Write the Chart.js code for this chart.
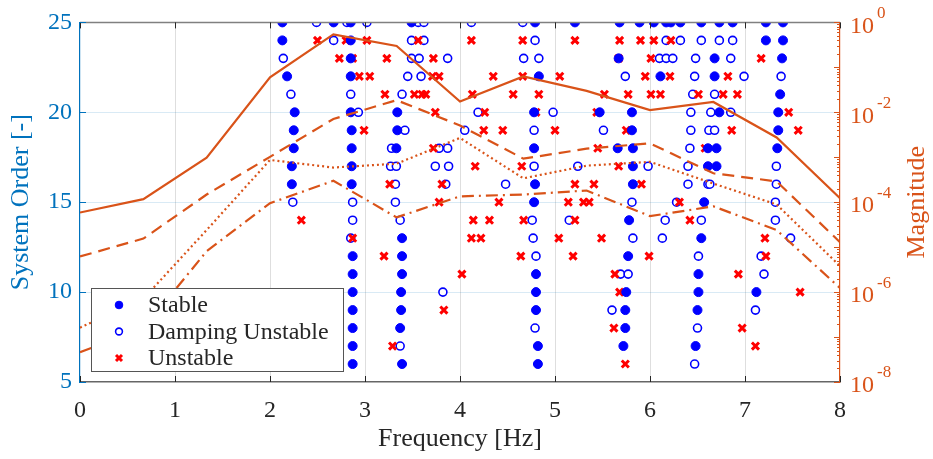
<!DOCTYPE html>
<html lang="en">
<head>
<meta charset="UTF-8">
<title>Stabilization Diagram</title>
<script src="https://cdn.jsdelivr.net/npm/chart.js"></script>
<style>
  body { margin: 0; background: #fff; }
  canvas { display: block; }
</style>
</head>
<body>
<canvas id="stabChart" width="933" height="459"></canvas>
<script>
    // pole frequencies [Hz] for each model order
    const stableByOrder = {
        25: [2.13, 2.67, 2.85, 3.49, 4.79, 5.21, 5.68, 5.89, 6.04, 6.17, 6.22, 6.32, 6.54, 6.73, 6.87, 7.22, 7.40],
        24: [2.13, 2.85, 7.22, 7.40],
        23: [2.85, 5.67, 6.68, 7.39],
        22: [2.18, 2.85, 4.83, 6.11, 6.68],
        21: [7.37],
        20: [2.26, 2.85, 3.34, 4.78, 5.47, 5.81, 6.73, 7.35],
        19: [2.25, 2.86, 3.34, 5.81, 7.35],
        18: [2.25, 2.86, 3.33, 4.78, 5.66, 5.82, 6.61, 6.70, 7.34],
        17: [2.23, 2.86, 5.82, 6.61, 6.70],
        16: [2.23, 2.86, 4.79, 5.82],
        15: [4.78, 6.57],
        14: [5.78],
        13: [3.39, 6.54],
        12: [2.87, 3.39, 5.77],
        11: [2.87, 3.39, 4.80, 6.51],
        10: [2.87, 3.38, 4.80, 5.75, 6.51, 7.12],
        9: [2.87, 3.38, 4.80, 5.74, 6.50],
        8: [2.87, 3.37, 5.74],
        7: [2.87, 4.82, 5.72, 6.48],
        6: [2.87, 3.39, 4.82]
    };

    const dampingByOrder = {
        25: [2.49, 2.81, 3.02, 3.56, 3.62, 4.12, 4.66],
        24: [2.67, 3.49, 3.62, 4.79, 6.17, 6.32, 6.54, 6.73, 6.87],
        23: [2.14, 3.49, 3.57, 3.87, 4.67, 4.83, 6.10, 6.17, 6.24, 6.48, 6.85],
        22: [3.45, 3.59, 5.74, 6.47, 6.99, 7.38],
        21: [2.22, 2.85, 3.39, 6.45, 6.68],
        20: [2.93, 4.19, 4.98, 6.43, 6.64, 6.85],
        19: [3.42, 4.05, 4.78, 5.51, 6.43, 6.62, 6.68],
        18: [3.28, 3.78, 3.87, 6.42],
        17: [3.27, 3.33, 3.74, 3.88, 4.78, 5.24, 5.98, 6.40, 7.33],
        16: [3.32, 3.85, 4.48, 6.40, 6.61, 6.63, 7.33],
        15: [2.24, 2.87, 3.32, 5.81, 6.28, 7.32],
        14: [2.87, 3.37, 4.76, 5.15, 6.16, 6.54, 7.32],
        13: [2.85, 4.77, 5.82, 6.13, 7.48],
        12: [4.80, 6.51, 7.17],
        11: [5.69, 5.77, 7.20],
        10: [3.82],
        9: [5.60, 7.11],
        8: [4.79, 6.50],
        7: [3.37],
        6: [6.47]
    };

    const unstableByOrder = {
        24: [2.50, 2.80, 3.02, 3.56, 4.12, 4.66, 5.21, 5.68, 5.90, 6.04, 6.22],
        23: [2.73, 2.87, 3.23, 3.72, 5.67, 6.01, 7.17],
        22: [2.94, 3.05, 3.71, 3.78, 4.35, 4.66, 5.05, 5.95, 6.21, 6.82],
        21: [3.21, 3.52, 3.60, 3.64, 4.13, 4.56, 4.83, 5.52, 5.77, 6.01, 6.11, 6.51, 6.77, 6.92],
        20: [3.74, 4.26, 4.80, 5.44, 7.46],
        19: [2.99, 4.25, 4.45, 5.00, 5.75, 6.86, 7.56],
        18: [3.72, 5.45, 6.58],
        17: [4.16, 4.65, 5.67],
        16: [3.26, 3.81, 5.21, 5.41, 5.91],
        15: [3.78, 4.41, 5.14, 5.30, 5.36, 6.31],
        14: [2.33, 4.14, 4.31, 4.67, 5.21, 6.42],
        13: [2.87, 4.12, 4.22, 5.04, 5.49, 7.21],
        12: [3.20, 4.64, 5.19, 5.99, 7.22],
        11: [4.02, 5.63, 6.93],
        10: [5.68, 7.58],
        9: [3.83],
        8: [5.62, 6.97],
        7: [3.29, 7.11],
        6: [5.74]
    };

    // magnitude curves on the right axis
    const curveFreq = [0, 0.667, 1.333, 2, 2.667, 3.333, 4, 4.667, 5.333, 6, 6.667, 7.333, 8];
    const magSolid = [5.9e-5, 1.17e-4, 9.8e-4, 0.060, 0.54, 0.30, 0.0174, 0.063, 0.030, 0.0112, 0.017, 2.75e-3, 1.23e-4];
    const magDashed = [6.2e-6, 1.55e-5, 1.48e-4, 1.02e-3, 7.1e-3, 0.0186, 5.1e-3, 9.3e-4, 1.55e-3, 2.04e-3, 4.4e-4, 2.9e-4, 1.29e-5];
    const magDotted = [1.62e-7, 7.1e-7, 2.4e-5, 8.7e-4, 5.9e-4, 7.2e-4, 2.69e-3, 3.4e-4, 6.5e-4, 7.9e-4, 2.6e-4, 8.9e-5, 3.8e-6];
    const magDashDot = [4.6e-8, 1.55e-7, 8.1e-6, 9.5e-5, 3.0e-4, 4.6e-5, 1.35e-4, 1.48e-4, 1.82e-4, 4.9e-5, 8.1e-5, 2.4e-5, 1.23e-6];

    const freqTicks = [0, 1, 2, 3, 4, 5, 6, 7, 8];
    const orderTicks = [5, 10, 15, 20, 25];
    const magExponents = [0, -2, -4, -6, -8];
    const legendOrder = ['Stable', 'Damping Unstable', 'Unstable'];

    const BLUE_AX = '#0072BD';
    const ORANGE = '#D95319';
    const SERIF = "'Liberation Serif', 'DejaVu Serif', serif";

    function toPoints(byOrder) {
        const pts = [];
        Object.keys(byOrder).forEach(order => {
            byOrder[order].forEach(f => pts.push({ x: f, y: Number(order) }));
        });
        return pts;
    }

    function curve(values) {
        return values.map((v, i) => ({ x: curveFreq[i], y: v }));
    }

    function curveDataset(values, dash) {
        return {
            label: '',
            data: curve(values),
            yAxisID: 'y2',
            showLine: true,
            borderColor: ORANGE,
            borderWidth: 2.2,
            borderDash: dash,
            pointRadius: 0,
            fill: false
        };
    }

    // draws inward ticks, top border, right labels/title and the legend
    const decorations = {
        id: 'decorations',
        afterDraw(chart) {
            const ctx = chart.ctx;
            const area = chart.chartArea;
            const xs = chart.scales.x, ys = chart.scales.y, y2 = chart.scales.y2;
            ctx.save();

            // top border
            ctx.strokeStyle = '#808080';
            ctx.lineWidth = 1.5;
            ctx.beginPath();
            ctx.moveTo(area.left, area.top);
            ctx.lineTo(area.right, area.top);
            ctx.stroke();

            // x ticks, bottom and top, pointing inward
            ctx.strokeStyle = '#262626';
            ctx.lineWidth = 1;
            freqTicks.forEach(f => {
                const px = Math.round(xs.getPixelForValue(f)) + 0.5;
                ctx.beginPath();
                ctx.moveTo(px, area.bottom); ctx.lineTo(px, area.bottom - 6);
                ctx.moveTo(px, area.top); ctx.lineTo(px, area.top + 6);
                ctx.stroke();
            });

            // left ticks
            ctx.strokeStyle = BLUE_AX;
            orderTicks.forEach(o => {
                const py = Math.round(ys.getPixelForValue(o)) + 0.5;
                ctx.beginPath();
                ctx.moveTo(area.left, py); ctx.lineTo(area.left + 6, py);
                ctx.stroke();
            });

            // right log ticks
            ctx.strokeStyle = ORANGE;
            for (let d = -8; d <= 0; d++) {
                for (let m = 1; m <= 9; m++) {
                    const v = m * Math.pow(10, d);
                    if (v > 1) break;
                    const py = Math.round(y2.getPixelForValue(v)) + 0.5;
                    const len = m === 1 ? 6 : 3;
                    ctx.beginPath();
                    ctx.moveTo(area.right, py); ctx.lineTo(area.right - len, py);
                    ctx.stroke();
                }
            }

            // right tick labels 10^n
            ctx.fillStyle = ORANGE;
            ctx.textAlign = 'left';
            ctx.textBaseline = 'middle';
            magExponents.forEach(e => {
                const py = y2.getPixelForValue(Math.pow(10, e));
                const x0 = area.right + 10;
                ctx.font = '24px ' + SERIF;
                ctx.fillText('10', x0, py + 4);
                const w = ctx.measureText('10').width;
                ctx.font = '17px ' + SERIF;
                ctx.fillText(String(e), x0 + w + 3, py - 9);
            });

            // right title
            ctx.save();
            ctx.translate(917, (area.top + area.bottom) / 2);
            ctx.rotate(-Math.PI / 2);
            ctx.textAlign = 'center';
            ctx.font = '26px ' + SERIF;
            ctx.fillText('Magnitude', 0, 0);
            ctx.restore();

            // legend box
            const lx = 91, ly = 288, lw = 252, lh = 83;
            ctx.fillStyle = '#ffffff';
            ctx.fillRect(lx, ly, lw, lh);
            ctx.strokeStyle = '#555555';
            ctx.lineWidth = 1;
            ctx.strokeRect(lx + 0.5, ly + 0.5, lw, lh);

            legendOrder.forEach((name, i) => {
                const ds = chart.data.datasets.find(d => d.label === name);
                const cy = ly + 17 + i * 26.5;
                const mx = lx + 28;
                ctx.lineWidth = ds.borderWidth;
                ctx.strokeStyle = ds.borderColor;
                ctx.fillStyle = ds.backgroundColor;
                Chart.helpers.drawPoint(ctx, {
                    pointStyle: ds.pointStyle,
                    radius: ds.pointRadius * 0.85,
                    borderWidth: ds.borderWidth,
                    rotation: 0
                }, mx, cy);
                ctx.fillStyle = '#262626';
                ctx.font = '24px ' + SERIF;
                ctx.textAlign = 'left';
                ctx.textBaseline = 'middle';
                ctx.fillText(name, lx + 57, cy + 1);
            });

            ctx.restore();
        }
    };

    const stabCtx = document.getElementById('stabChart').getContext('2d');
    const stabChart = new Chart(stabCtx, {
        type: 'scatter',
        data: {
            datasets: [
                curveDataset(magSolid, []),
                curveDataset(magDashed, [12, 7]),
                curveDataset(magDotted, [2, 3]),
                curveDataset(magDashDot, [12, 5, 2, 5]),
                {
                    label: 'Stable',
                    data: toPoints(stableByOrder),
                    yAxisID: 'y',
                    pointStyle: 'circle',
                    pointRadius: 4.5,
                    backgroundColor: '#0000ff',
                    borderColor: '#0000ff',
                    borderWidth: 1
                },
                {
                    label: 'Unstable',
                    data: toPoints(unstableByOrder),
                    yAxisID: 'y',
                    pointStyle: 'crossRot',
                    pointRadius: 5,
                    backgroundColor: '#ff0000',
                    borderColor: '#ff0000',
                    borderWidth: 3
                },
                {
                    label: 'Damping Unstable',
                    data: toPoints(dampingByOrder),
                    yAxisID: 'y',
                    pointStyle: 'circle',
                    pointRadius: 4,
                    backgroundColor: '#ffffff',
                    borderColor: '#0000ff',
                    borderWidth: 1.6
                }
            ]
        },
        options: {
            responsive: false,
            animation: false,
            devicePixelRatio: 1,
            layout: { padding: { top: 20, left: 0, right: 0, bottom: 0 } },
            plugins: {
                legend: { display: false },
                tooltip: { enabled: false }
            },
            scales: {
                x: {
                    type: 'linear',
                    min: 0,
                    max: 8,
                    afterFit: s => { s.height = 77; },
                    ticks: {
                        stepSize: 1,
                        padding: 14,
                        color: '#262626',
                        font: { family: SERIF, size: 24 }
                    },
                    grid: {
                        drawTicks: false,
                        color: c => (c.tick && c.tick.value > 0 && c.tick.value < 8) ? '#dedede' : 'rgba(0,0,0,0)'
                    },
                    border: { color: '#666666', width: 1.5 },
                    title: {
                        display: true,
                        text: 'Frequency [Hz]',
                        color: '#262626',
                        font: { family: SERIF, size: 26 },
                        padding: { top: 0, bottom: 4 }
                    }
                },
                y: {
                    type: 'linear',
                    position: 'left',
                    min: 5,
                    max: 25,
                    afterFit: s => { s.width = 80; },
                    ticks: {
                        stepSize: 5,
                        padding: 8,
                        color: BLUE_AX,
                        font: { family: SERIF, size: 24 }
                    },
                    grid: {
                        drawTicks: false,
                        color: c => (c.tick && c.tick.value > 5 && c.tick.value < 25) ? 'rgba(0,114,189,0.15)' : 'rgba(0,0,0,0)'
                    },
                    border: { color: BLUE_AX, width: 1.2 },
                    title: {
                        display: true,
                        text: 'System Order [-]',
                        color: BLUE_AX,
                        font: { family: SERIF, size: 26 },
                        padding: { top: 6, bottom: 0 }
                    }
                },
                y2: {
                    type: 'logarithmic',
                    position: 'right',
                    min: 1e-8,
                    max: 1,
                    afterFit: s => { s.width = 93; },
                    ticks: { display: false },
                    grid: { display: false, drawTicks: false },
                    border: { color: ORANGE, width: 1.2 }
                }
            }
        },
        plugins: [decorations]
    });
</script>
</body>
</html>
